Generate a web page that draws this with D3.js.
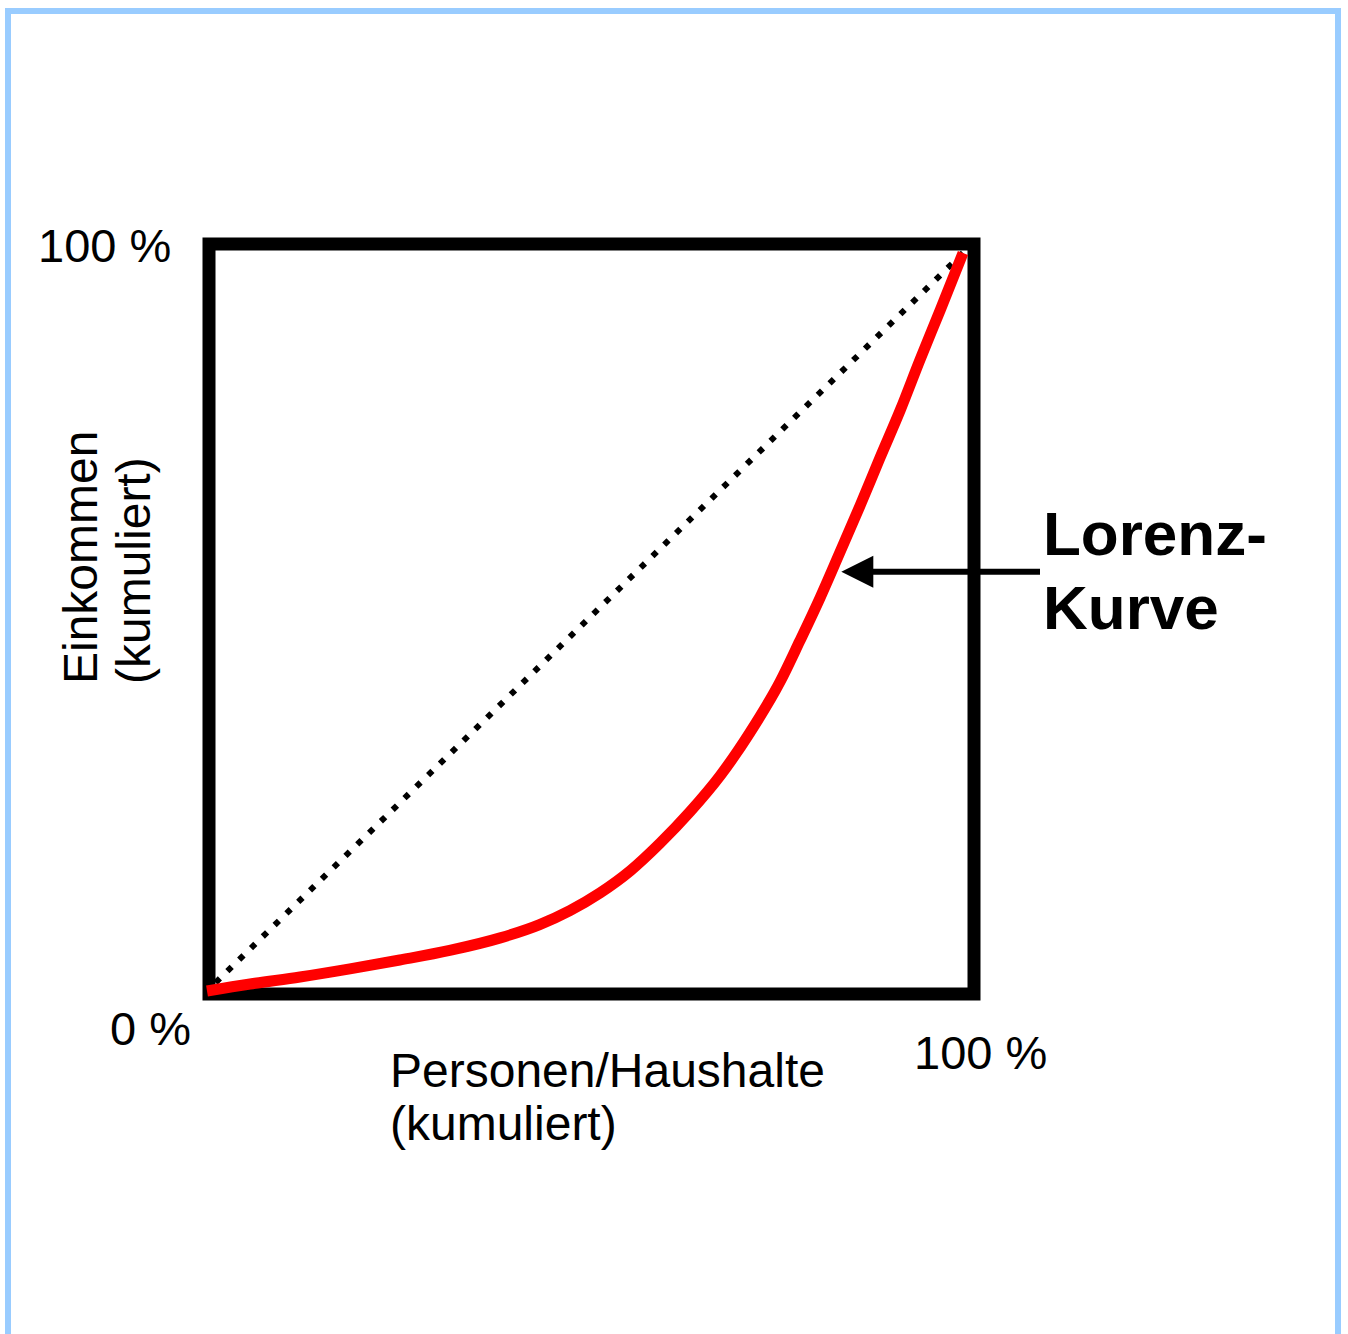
<!DOCTYPE html>
<html lang="de">
<head>
<meta charset="utf-8">
<title>Lorenz-Kurve</title>
<script src="https://cdn.jsdelivr.net/npm/d3@7"></script>
<style>
  html, body { margin: 0; padding: 0; background: #fff; }
  svg { display: block; }
  text { font-family: "Liberation Sans", Arial, Helvetica, sans-serif; fill: #000; }
</style>
</head>
<body>
<svg id="chart" width="1348" height="1334"></svg>
<script>
// Cumulative share of persons/households (%) and of income (%)
const populationShare = [0, 5.7, 12.3, 18.9, 25.5, 32.1, 38.8, 44.0, 48.0, 52.0, 56.0, 59.9,
                         63.9, 67.9, 71.8, 75.8, 78.4, 81.1, 83.7, 86.4, 89.0, 91.7, 94.3, 97.0, 100];
const incomeShare     = [0, 0.95, 1.9, 3.0, 4.2, 5.5, 7.2, 9.0, 10.9, 13.3, 16.3, 20.0,
                         24.3, 29.2, 35.0, 41.9, 47.4, 53.3, 59.4, 65.8, 72.2, 78.7, 85.5, 92.3, 100];

// Line of perfect equality
const equalityX = [0, 100];
const equalityY = [0, 100];

// Axis end labels
const yTickLabels = ["0 %", "100 %"];
const xTickLabels = ["100 %"];

// Point on the curve the annotation arrow points to (in %)
const arrowTarget = [83.9, 56.8];

const svg = d3.select("#chart");

// Outer light blue frame
svg.append("rect")
  .attr("x", 8).attr("y", 11)
  .attr("width", 1330).attr("height", 1400)
  .attr("fill", "none")
  .attr("stroke", "#99CCFF")
  .attr("stroke-width", 6);

const x = d3.scaleLinear().domain([0, 100]).range([207, 963]);
const y = d3.scaleLinear().domain([0, 100]).range([991, 253]);

// Plot frame
svg.append("rect")
  .attr("x", 209).attr("y", 244)
  .attr("width", 765).attr("height", 750)
  .attr("fill", "none")
  .attr("stroke", "#000")
  .attr("stroke-width", 13);

// Equality diagonal (dotted)
const eqData = equalityX.map((v, i) => [v, equalityY[i]]);
svg.append("path")
  .datum(eqData)
  .attr("d", d3.line().x(d => x(d[0])).y(d => y(d[1])))
  .attr("fill", "none")
  .attr("stroke", "#000")
  .attr("stroke-width", 6)
  .attr("stroke-dasharray", "6 10.5")
  .attr("stroke-dashoffset", -12);

// Lorenz curve
const lorenz = populationShare.map((v, i) => [v, incomeShare[i]]);
svg.append("path")
  .datum(lorenz)
  .attr("d", d3.line().x(d => x(d[0])).y(d => y(d[1])).curve(d3.curveMonotoneX))
  .attr("fill", "none")
  .attr("stroke", "#FF0000")
  .attr("stroke-width", 11)
  .attr("stroke-linecap", "butt")
  .attr("stroke-linejoin", "round");

// Annotation arrow
const tipX = x(arrowTarget[0]), tipY = y(arrowTarget[1]);
svg.append("line")
  .attr("x1", tipX + 28).attr("y1", tipY)
  .attr("x2", 1040).attr("y2", tipY)
  .attr("stroke", "#000")
  .attr("stroke-width", 6);
svg.append("path")
  .attr("d", `M${tipX},${tipY} L${tipX + 32},${tipY - 16} L${tipX + 32},${tipY + 16} Z`)
  .attr("fill", "#000");

// Annotation label
const note = svg.append("text")
  .attr("font-size", 62)
  .attr("font-weight", "bold");
note.append("tspan").attr("x", 1043).attr("y", 555).text("Lorenz-");
note.append("tspan").attr("x", 1043).attr("y", 629).text("Kurve");

// End labels
svg.append("text").attr("x", 38).attr("y", 262).attr("font-size", 47).text(yTickLabels[1]);
svg.append("text").attr("x", 110).attr("y", 1045).attr("font-size", 47).text(yTickLabels[0]);
svg.append("text").attr("x", 914).attr("y", 1069).attr("font-size", 47).text(xTickLabels[0]);

// X axis title
const xt = svg.append("text").attr("font-size", 48);
xt.append("tspan").attr("x", 390).attr("y", 1087).text("Personen/Haushalte");
xt.append("tspan").attr("x", 390).attr("y", 1140).text("(kumuliert)");

// Y axis title
svg.append("text")
  .attr("transform", "translate(97,684) rotate(-90)")
  .attr("font-size", 48)
  .text("Einkommen");
svg.append("text")
  .attr("transform", "translate(150,684) rotate(-90)")
  .attr("font-size", 48)
  .text("(kumuliert)");
</script>
</body>
</html>
